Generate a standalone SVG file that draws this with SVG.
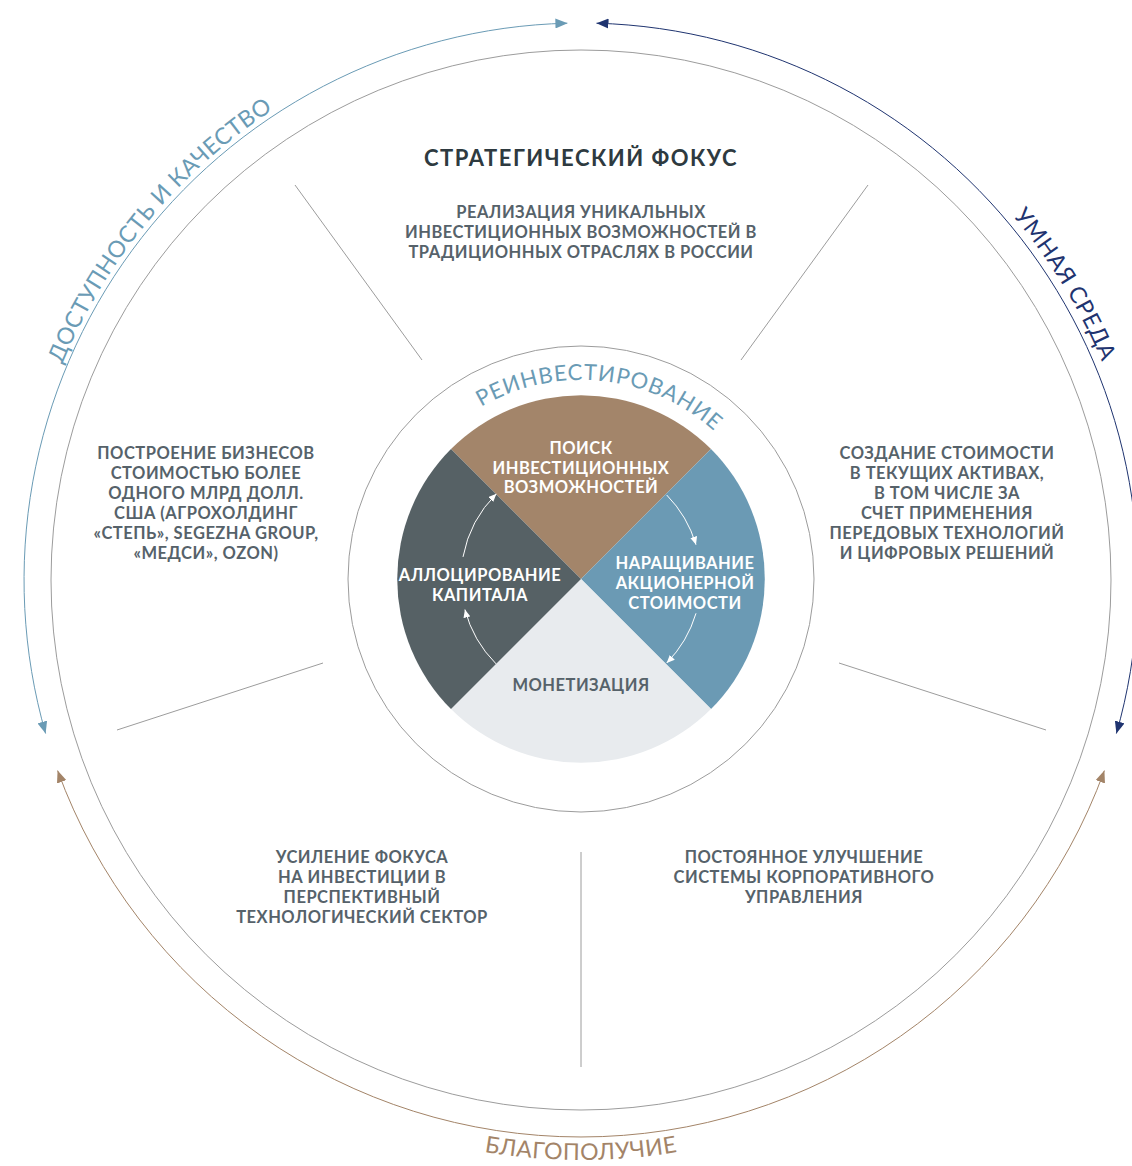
<svg xmlns="http://www.w3.org/2000/svg" width="1132" height="1166" viewBox="0 0 1132 1166">
<defs>
<style>
.t{font-family:Lato,"Noto Sans","Liberation Sans",sans-serif;font-weight:700;font-size:16.5px;letter-spacing:0.5px;text-anchor:middle;fill:#56626A}
.w{fill:#ffffff}
.title{font-size:22px;fill:#2E3A40;letter-spacing:1.5px}
.lab{font-family:Lato,"Noto Sans","Liberation Sans",sans-serif;font-weight:400;font-size:23px;letter-spacing:0.5px;text-anchor:middle}
.div{stroke:#9C9C9C;stroke-width:1;fill:none}
</style>
<marker id="mBlue" markerUnits="userSpaceOnUse" viewBox="0 0 12 10" refX="12" refY="5" markerWidth="12" markerHeight="10" orient="auto-start-reverse"><path d="M0,0 L12,5 L0,10 z" fill="#6A9BB5"/></marker>
<marker id="mNavy" markerUnits="userSpaceOnUse" viewBox="0 0 12 10" refX="12" refY="5" markerWidth="12" markerHeight="10" orient="auto-start-reverse"><path d="M0,0 L12,5 L0,10 z" fill="#1F3470"/></marker>
<marker id="mBrown" markerUnits="userSpaceOnUse" viewBox="0 0 12 10" refX="12" refY="5" markerWidth="12" markerHeight="10" orient="auto-start-reverse"><path d="M0,0 L12,5 L0,10 z" fill="#A38468"/></marker>
<marker id="mWhite" markerUnits="userSpaceOnUse" viewBox="0 0 8 7" refX="8" refY="3.5" markerWidth="8" markerHeight="7" orient="auto"><path d="M0,0 L8,3.5 L0,7 z" fill="#ffffff"/></marker>
<path id="pBlue" d="M27.5,482.4 A562,562 0 0 1 388.8,51.9"/>
<path id="pNavy" d="M851.4,84.1 A565,565 0 0 1 1145.8,566.2"/>
<path id="pBrown" d="M382.6,1125 A580,580 0 0 0 779.4,1125"/>
<path id="pRe" d="M420,462 A199,199 0 0 1 762.8,498.1"/>
</defs>
<rect width="1132" height="1166" fill="#ffffff"/>

<g id="outer-ring">
<circle cx="581" cy="580" r="530" class="div"/>
</g>
<g id="inner-ring">
<circle cx="581" cy="579" r="233" class="div"/>
</g>

<g id="connectors">
<path d="M45.6,733.5 A557,557 0 0 1 567.4,23.2" fill="none" stroke="#6A9BB5" stroke-width="1" marker-start="url(#mBlue)" marker-end="url(#mBlue)"/>
<path d="M596.5,23.2 A557,557 0 0 1 1116.4,733.5" fill="none" stroke="#1F3470" stroke-width="1" marker-start="url(#mNavy)" marker-end="url(#mNavy)"/>
<path d="M57.6,770.5 A557,557 0 0 0 1104.4,770.5" fill="none" stroke="#A38468" stroke-width="1" marker-start="url(#mBrown)" marker-end="url(#mBrown)"/>
<line x1="422" y1="360" x2="295" y2="185" class="div"/>
<line x1="741" y1="360" x2="868" y2="185" class="div"/>
<line x1="323" y1="663" x2="117" y2="730" class="div"/>
<line x1="839" y1="663" x2="1046" y2="730" class="div"/>
<line x1="581" y1="852" x2="581" y2="1067" class="div"/>
</g>

<g id="label-access">
<text class="lab" fill="#6A9BB5"><textPath href="#pBlue" startOffset="49.5%">ДОСТУПНОСТЬ И КАЧЕСТВО</textPath></text>
</g>
<g id="label-smart">
<text class="lab" fill="#1F3470"><textPath href="#pNavy" startOffset="50%">УМНАЯ СРЕДА</textPath></text>
</g>
<g id="label-wellbeing">
<text class="lab" fill="#A38468"><textPath href="#pBrown" startOffset="50%">БЛАГОПОЛУЧИЕ</textPath></text>
</g>

<g id="pie">
<path id="q-top" d="M581,579 L451,449 A184,184 0 0 1 711,449 Z" fill="#A3856A"/>
<path id="q-right" d="M581,579 L711,449 A184,184 0 0 1 711,709 Z" fill="#6B9AB4"/>
<path id="q-bottom" d="M581,579 L711,709 A184,184 0 0 1 451,709 Z" fill="#E8EBEE"/>
<path id="q-left" d="M581,579 L451,709 A184,184 0 0 1 451,449 Z" fill="#566165"/>
</g>

<g id="cycle-arrows" fill="none" stroke="#ffffff" stroke-width="1">
<path d="M666.7,495 A120,120 0 0 1 696,544.7" marker-end="url(#mWhite)"/>
<path d="M696,613.3 A120,120 0 0 1 666.7,663" marker-end="url(#mWhite)"/>
<path d="M496.1,663.9 A120,120 0 0 1 464.9,609.5" marker-end="url(#mWhite)"/>
<path d="M463,556.9 A120,120 0 0 1 496.4,493.8" marker-end="url(#mWhite)"/>
</g>

<g id="label-reinvest">
<text class="lab" fill="#6A9BB5" style="font-size:22px;letter-spacing:0.9px"><textPath href="#pRe" startOffset="50%">РЕИНВЕСТИРОВАНИЕ</textPath></text>
</g>

<g id="node-search">
<text class="t w"><tspan x="581" y="454">ПОИСК</tspan><tspan x="581" y="473.5">ИНВЕСТИЦИОННЫХ</tspan><tspan x="581" y="493">ВОЗМОЖНОСТЕЙ</tspan></text>
</g>
<g id="node-growth">
<text class="t w"><tspan x="685" y="569">НАРАЩИВАНИЕ</tspan><tspan x="685" y="589">АКЦИОНЕРНОЙ</tspan><tspan x="685" y="609">СТОИМОСТИ</tspan></text>
</g>
<g id="node-allocation">
<text class="t w"><tspan x="480" y="581">АЛЛОЦИРОВАНИЕ</tspan><tspan x="480" y="601">КАПИТАЛА</tspan></text>
</g>
<g id="node-monetization">
<text class="t" fill="#4F5A5E"><tspan x="581" y="691">МОНЕТИЗАЦИЯ</tspan></text>
</g>

<g id="node-title">
<text class="t title" x="581" y="166">СТРАТЕГИЧЕСКИЙ ФОКУС</text>
</g>
<g id="node-top">
<text class="t"><tspan x="581" y="218">РЕАЛИЗАЦИЯ УНИКАЛЬНЫХ</tspan><tspan x="581" y="238">ИНВЕСТИЦИОННЫХ ВОЗМОЖНОСТЕЙ В</tspan><tspan x="581" y="258">ТРАДИЦИОННЫХ ОТРАСЛЯХ В РОССИИ</tspan></text>
</g>
<g id="node-left">
<text class="t"><tspan x="206" y="459">ПОСТРОЕНИЕ БИЗНЕСОВ</tspan><tspan x="206" y="479">СТОИМОСТЬЮ БОЛЕЕ</tspan><tspan x="206" y="499">ОДНОГО МЛРД ДОЛЛ.</tspan><tspan x="206" y="519">США (АГРОХОЛДИНГ</tspan><tspan x="206" y="539">«СТЕПЬ», SEGEZHA GROUP,</tspan><tspan x="206" y="559">«МЕДСИ», OZON)</tspan></text>
</g>
<g id="node-right">
<text class="t"><tspan x="947" y="459">СОЗДАНИЕ СТОИМОСТИ</tspan><tspan x="947" y="479">В ТЕКУЩИХ АКТИВАХ,</tspan><tspan x="947" y="499">В ТОМ ЧИСЛЕ ЗА</tspan><tspan x="947" y="519">СЧЕТ ПРИМЕНЕНИЯ</tspan><tspan x="947" y="539">ПЕРЕДОВЫХ ТЕХНОЛОГИЙ</tspan><tspan x="947" y="559">И ЦИФРОВЫХ РЕШЕНИЙ</tspan></text>
</g>
<g id="node-bottom-left">
<text class="t"><tspan x="362" y="863">УСИЛЕНИЕ ФОКУСА</tspan><tspan x="362" y="883">НА ИНВЕСТИЦИИ В</tspan><tspan x="362" y="903">ПЕРСПЕКТИВНЫЙ</tspan><tspan x="362" y="923">ТЕХНОЛОГИЧЕСКИЙ СЕКТОР</tspan></text>
</g>
<g id="node-bottom-right">
<text class="t"><tspan x="804" y="863">ПОСТОЯННОЕ УЛУЧШЕНИЕ</tspan><tspan x="804" y="883">СИСТЕМЫ КОРПОРАТИВНОГО</tspan><tspan x="804" y="903">УПРАВЛЕНИЯ</tspan></text>
</g>
</svg>
